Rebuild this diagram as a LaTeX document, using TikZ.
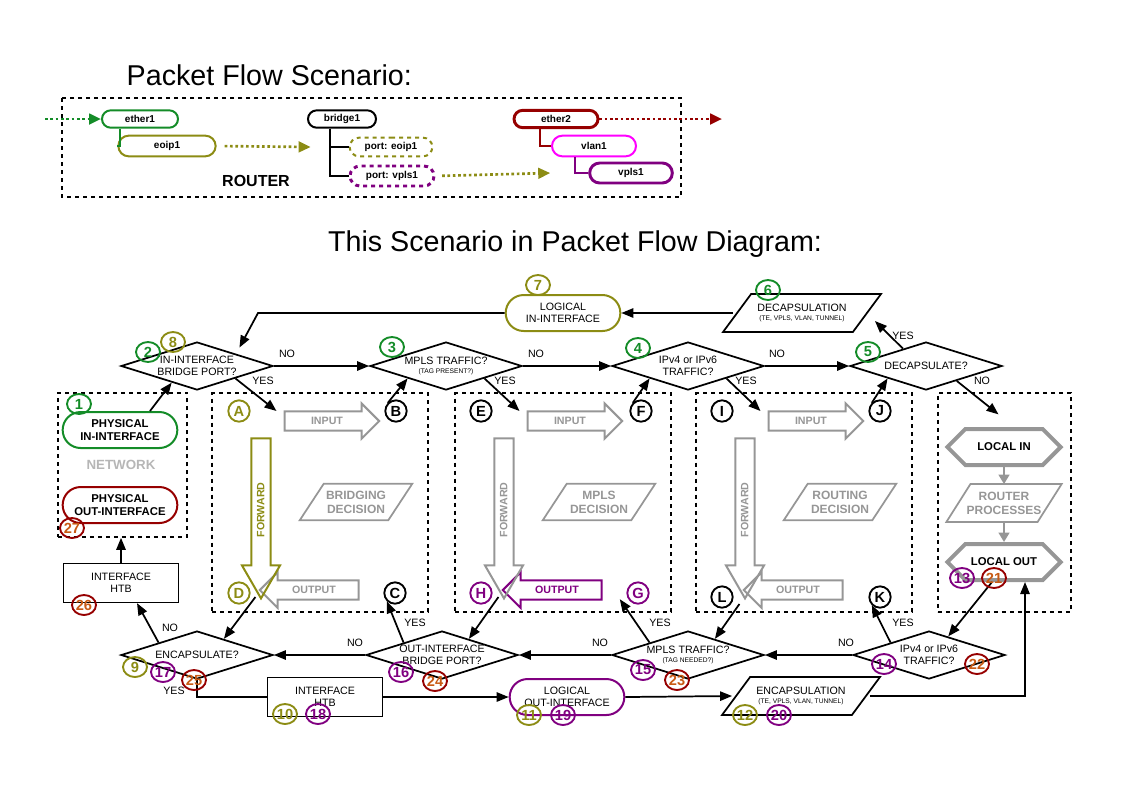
\documentclass[tikz,border=0pt]{standalone}
\usepackage{fontspec}
\setmainfont{Liberation Sans}
\usetikzlibrary{shapes.geometric,shapes.misc,shapes.symbols,shapes.arrows,arrows.meta,calc}
\definecolor{cg}{RGB}{20,140,40}
\definecolor{co}{RGB}{140,140,20}
\definecolor{cp}{RGB}{128,0,128}
\definecolor{cr}{RGB}{150,0,0}
\definecolor{cor}{RGB}{200,90,20}
\definecolor{cm}{RGB}{255,0,255}
\definecolor{cgr}{RGB}{150,150,150}
\begin{document}
\begin{tikzpicture}[x=0.75pt,y=-0.75pt,
 every node/.style={font=\fontsize{8}{9}\selectfont},
 arr/.style={-{Triangle[length=9pt,width=7pt]},line width=1.3pt},
 dia/.style={diamond,draw,line width=1.3pt,minimum width=114pt,minimum height=36pt,inner sep=-30pt,align=center},
 para/.style={rectangle,inner sep=0pt,align=center,minimum width=118pt,minimum height=28pt},
 gpara/.style={para,text=cgr,font=\fontsize{9}{10.5}\selectfont\bfseries,minimum width=84pt,minimum height=27pt},
 rr/.style={rounded rectangle,draw,line width=1.5pt,align=center,minimum width=86pt,minimum height=27pt,inner sep=0pt},
 box/.style={rectangle,draw,line width=1.2pt,align=center,minimum width=86pt,minimum height=29pt,inner sep=0pt},
 dbox/.style={rectangle,draw,dashed,line width=1.2pt,minimum height=164pt},
 hex/.style={signal,signal to=east and west,draw=cgr,line width=3pt,minimum width=85pt,minimum height=27pt,inner sep=0pt,font=\fontsize{8.5}{10}\selectfont\bfseries},
 num/.style={ellipse,draw=#1,text=#1,line width=1.4pt,minimum width=18pt,minimum height=15pt,inner sep=0pt,font=\fontsize{11}{11}\selectfont\bfseries},
 numr/.style={num=cr,text=cor},
 let/.style={circle,draw=#1,text=#1,line width=1.4pt,minimum size=16pt,inner sep=0pt,font=\fontsize{11}{11}\selectfont\bfseries},
 barr/.style={single arrow,draw=#1,text=#1,line width=1.5pt,text height=5pt,text depth=0pt,inner ysep=4pt,single arrow head extend=6pt,font=\fontsize{8}{9}\selectfont\bfseries},
 sm/.style={rounded rectangle,draw,line width=1.5pt,minimum height=13pt,inner sep=0pt,font=\fontsize{7.5}{8}\selectfont\bfseries},
 lab/.style={font=\fontsize{8}{9}\selectfont}
]
\useasboundingbox (0,0) rectangle (1123,794);
% ---------- top scenario ----------
\node[anchor=west,font=\fontsize{21.5}{24}\selectfont] (t1) at (122,75) {Packet Flow Scenario:};
\draw[dashed,line width=1.2pt] (62,98) rectangle (681,197);
\node[font=\fontsize{12}{13}\selectfont\bfseries] (routerlab) at (256,181) {ROUTER};
\node[sm,draw=cg,minimum width=57pt] (ether1) at (140,119) {ether1};
\node[sm,draw=co,minimum width=73pt,minimum height=15.5pt] (eoip1) at (167,146) {eoip1};
\node[sm,draw=black,minimum width=51pt] (bridge1) at (342,119) {bridge1};
\node[sm,draw=co,dashed,minimum width=62pt,minimum height=14pt] (peoip) at (391,147) {port: eoip1};
\node[sm,draw=cp,dashed,line width=2.2pt,minimum width=63pt,minimum height=15pt] (pvpls) at (392,176) {port: vpls1};
\node[sm,draw=cr,line width=2.2pt,minimum width=63pt] (ether2) at (556,119) {ether2};
\node[sm,draw=cm,minimum width=63pt,minimum height=15.5pt] (vlan1) at (594,146) {vlan1};
\node[sm,draw=cp,line width=2.2pt,minimum width=62pt,minimum height=15pt] (vpls1) at (631,173) {vpls1};
\coordinate (inS) at (45,119);
\coordinate (outE) at (722,119);
\draw[cg,dotted,line width=2pt,-{Triangle[length=9pt,width=8pt]}] (inS) -- (ether1.west);
\draw[cr,dotted,line width=2pt,-{Triangle[length=9pt,width=8pt]}] (ether2.east) -- (outE);
\draw[co,dotted,line width=2pt,-{Triangle[length=9pt,width=8pt]},shorten <=6pt] (eoip1.east) -- ($(peoip.west)+(-38,0)$);
\draw[co,dotted,line width=2pt,-{Triangle[length=9pt,width=8pt]},shorten <=5pt] (pvpls.east) -- ($(vpls1.west)+(-38,0)$);
\draw[cg,line width=1.5pt] ($(ether1.south)+(-20,0)$) |- (eoip1.west);
\draw[line width=1.5pt] ($(bridge1.south)+(-12,0)$) |- (peoip.west);
\draw[line width=1.5pt] ($(bridge1.south)+(-12,0)$) |- (pvpls.west);
\draw[cr,line width=1.5pt] ($(ether2.south)+(-16,0)$) |- (vlan1.west);
\draw[cp,line width=1.5pt] ($(vlan1.south)+(-19,0)$) |- (vpls1.west);
\node[font=\fontsize{21.5}{24}\selectfont] (t2) at (575,244) {This Scenario in Packet Flow Diagram:};
% ---------- boxes ----------
\node[dbox,minimum width=97pt,minimum height=108pt] (net) at (122.5,465) {};
\node[dbox,minimum width=162pt] (bbox) at (320,502.5) {};
\node[dbox,minimum width=162pt] (mbox) at (563,502.5) {};
\node[dbox,minimum width=162pt] (rbox) at (804,502.5) {};
\node[dbox,minimum width=100pt] (lbox) at (1004.5,502.5) {};
% ---------- top row ----------
\node[dia] (d2) at (197,366) {IN-INTERFACE\\BRIDGE PORT?};
\node[dia] (d3) at (446,366) {MPLS TRAFFIC?\\[-2pt]{\fontsize{5}{6}\selectfont (TAG PRESENT?)}};
\node[dia] (d4) at (688,366) {IPv4 or IPv6\\TRAFFIC?};
\node[dia] (d5) at (926,366) {DECAPSULATE?};
\node[para] (decaps) at (802,313) {DECAPSULATION\\[-2pt]{\fontsize{5}{6}\selectfont (TE, VPLS, VLAN, TUNNEL)}};
\node[rr,draw=co] (login) at (563,313) {LOGICAL\\IN-INTERFACE};
\coordinate (c1) at (258,313);
\draw[arr] ($(decaps.west)+(10,0)$) -- (login.east);
\draw[arr] (login.west) -- (c1) -- ($(d2.north)!0.5!(d2.east)+(4,-6)$);
\draw[arr] (d2.east) -- (d3.west);
\draw[arr] (d3.east) -- (d4.west);
\draw[arr] (d4.east) -- (d5.west);
\draw[arr] ($(d5.north)!0.3!(d5.west)$) -- ($(decaps.east)+(-6,8)$);
\draw[arr] ($(d5.south)!0.4!(d5.east)$) -- ($(lbox.north)+(-6,22)$);
\node[lab] (n1) at (287,354) {NO};
\node[lab] (n2) at (536,354) {NO};
\node[lab] (n3) at (777,354) {NO};
\node[lab] (n4) at (982,381) {NO};
\node[lab] (y1) at (263,381) {YES};
\node[lab] (y2) at (505,381) {YES};
\node[lab] (y3) at (746,381) {YES};
\node[lab] (y4) at (903,336) {YES};
% ---------- network box ----------
\node[rr,draw=cg,font=\fontsize{8.5}{10}\selectfont\bfseries] (physin) at (120,430) {PHYSICAL\\IN-INTERFACE};
\node[font=\fontsize{10}{11}\selectfont\bfseries,text=cgr!70] (netlab) at (121,465) {NETWORK};
\node[rr,draw=cr,font=\fontsize{8.5}{10}\selectfont\bfseries] (physout) at (120,505) {PHYSICAL\\OUT-INTERFACE};
\draw[arr] ($(physin.north)+(30,0)$) -- ($(d2.south)!0.33!(d2.west)$);
% ---------- decision boxes ----------
\foreach \b/\cx/\dn/\fc/\oc in {b/0/BRIDGING/co/cgr, m/243/MPLS/cgr/cp, r/484/ROUTING/cgr/cgr}{
  \node[gpara] (\b dec) at ({356+\cx},502) {\dn\\DECISION};
  \node[barr=cgr,minimum height=71pt,minimum width=24pt] (\b in) at ({327+\cx},421) {INPUT};
  \node[barr=\oc,shape border rotate=180,minimum height=74pt,minimum width=24pt] (\b out) at ({314+\cx},590) {OUTPUT};
  \node[barr=\fc,rotate=90,shape border rotate=180,minimum height=120pt,minimum width=27pt,single arrow head extend=7pt,single arrow tip angle=60] (\b fw) at ({261+\cx},510) {FORWARD};
}
\node[let=co] (A) at (239,411) {A};
\node[let=black] (B) at (396,411) {B};
\node[let=co] (D) at (239,593) {D};
\node[let=black] (C) at (395,593) {C};
\node[let=black] (E) at (481,411) {E};
\node[let=black] (F) at (641,411) {F};
\node[let=cp] (H) at (481,593) {H};
\node[let=cp] (G) at (638,593) {G};
\node[let=black] (I) at (722,411) {I};
\node[let=black] (J) at (880,411) {J};
\node[let=black] (L) at (722,597) {L};
\node[let=black] (K) at (880,597) {K};
\draw[arr] ($(d2.south)!0.5!(d2.east)$) -- ($(bin.west)+(-7,-10)$);
\draw[arr] ($(d3.south)!0.5!(d3.east)$) -- ($(min.west)+(-7,-10)$);
\draw[arr] ($(d4.south)!0.5!(d4.east)$) -- ($(rin.west)+(-7,-10)$);
\draw[arr] (B.north west) -- ($(d3.south)!0.5!(d3.west)$);
\draw[arr] (F.north west) -- ($(d4.south)!0.5!(d4.west)$);
\draw[arr] (J.north west) -- ($(d5.south)!0.5!(d5.west)$);
% ---------- local box ----------
\node[hex] (localin) at (1004,447) {LOCAL IN};
\node[gpara,minimum width=86pt,minimum height=28pt] (rproc) at (1004,503) {ROUTER\\PROCESSES};
\node[hex] (localout) at (1004,562) {LOCAL OUT};
\draw[cgr,line width=1.5pt,-{Triangle[length=7pt,width=8pt]}] (localin.south) -- (rproc.north);
\draw[cgr,line width=1.5pt,-{Triangle[length=7pt,width=8pt]}] (rproc.south) -- (localout.north);
% ---------- bottom row ----------
\node[dia] (d9) at (197,655) {ENCAPSULATE?};
\node[dia] (d16) at (442,655) {OUT-INTERFACE\\BRIDGE PORT?};
\node[dia] (d15) at (688,655) {MPLS TRAFFIC?\\[-2pt]{\fontsize{5}{6}\selectfont (TAG NEEDED?)}};
\node[dia] (d14) at (929,655) {IPv4 or IPv6\\TRAFFIC?};
\node[box] (htb1) at (121,583) {INTERFACE\\HTB};
\node[box] (htb2) at (325,697) {INTERFACE\\HTB};
\node[rr,draw=cp] (logout) at (567,697) {LOGICAL\\OUT-INTERFACE};
\node[para] (encaps) at (801,696) {ENCAPSULATION\\[-2pt]{\fontsize{5}{6}\selectfont (TE, VPLS, VLAN, TUNNEL)}};
% parallelogram outlines
\foreach \n/\c/\s in {decaps/black/14, encaps/black/14, bdec/cgr/12, mdec/cgr/12, rdec/cgr/12, rproc/cgr/12}{
  \draw[\c,line width=1.3pt] (\n.south west) -- ($(\n.north west)+(\s*2,0)$) -- (\n.north east) -- ($(\n.south east)+(-\s*2,0)$) -- cycle;
}
\draw[arr] (d14.west) -- (d15.east);
\draw[arr] (d15.west) -- (d16.east);
\draw[arr] (d16.west) -- (d9.east);
\draw[arr] ($(bout.west)+(-3,7)$) -- ($(d9.north)!0.35!(d9.east)$);
\draw[arr] ($(mout.west)+(-3,7)$) -- ($(d16.north)!0.35!(d16.east)$);
\draw[arr] ($(rout.west)+(-3,14)$) -- ($(d15.north)!0.35!(d15.east)$);
\draw[arr] ($(localout.south)+(-12,0)$) -- ($(d14.north)!0.25!(d14.east)$);
\draw[arr] ($(d14.north)!0.5!(d14.west)$) -- (K.south west);
\draw[arr] ($(d15.north)!0.5!(d15.west)$) -- ($(G.south west)+(-10,-2)$);
\draw[arr] ($(d16.north)!0.5!(d16.west)$) -- (C.south west);
\draw[arr] ($(d9.north)!0.5!(d9.west)$) -- ($(htb1.south)+(16,0)$);
\draw[arr] (htb1.north) -- (net.south -| htb1.north);
\draw[line width=1.3pt] (d9.south) |- (htb2.west);
\draw[arr] (htb2.east) -- (logout.west);
\draw[arr] (logout.east) -- ($(encaps.west)+(10,0)$);
\draw[arr] ($(encaps.east)+(-10,0)$) -| ($(localout.south)+(21,0)$);
\node[lab] (n5) at (170,628) {NO};
\node[lab] (n6) at (355,643) {NO};
\node[lab] (n7) at (600,643) {NO};
\node[lab] (n8) at (846,643) {NO};
\node[lab] (y5) at (174,691) {YES};
\node[lab] (y6) at (415,623) {YES};
\node[lab] (y7) at (660,623) {YES};
\node[lab] (y8) at (903,623) {YES};
% ---------- numbers ----------
\node[num=cg] (k1) at (79,404) {1};
\node[num=cg] (k2) at (148,352) {2};
\node[num=co] (k8) at (173,342) {8};
\node[num=cg] (k3) at (392,347) {3};
\node[num=cg] (k4) at (638,348) {4};
\node[num=cg] (k5) at (868,352) {5};
\node[num=cg] (k6) at (768,290) {6};
\node[num=co] (k7) at (538,285) {7};
\node[numr] (k27) at (72,528) {27};
\node[numr] (k26) at (84,605) {26};
\node[num=co] (k9) at (135,667) {9};
\node[num=cp] (k17) at (163,672) {17};
\node[numr] (k25) at (194,680) {25};
\node[num=cp] (k16) at (401,672) {16};
\node[numr] (k24) at (435,681) {24};
\node[num=cp] (k15) at (643,670) {15};
\node[numr] (k23) at (677,680) {23};
\node[num=cp] (k14) at (884,664) {14};
\node[numr] (k22) at (977,664) {22};
\node[num=cp] (k13) at (962,578) {13};
\node[numr] (k21) at (994,578) {21};
\node[num=co] (k10) at (285,714) {10};
\node[num=cp] (k18) at (318,714) {18};
\node[num=co] (k11) at (529,715) {11};
\node[num=cp] (k19) at (563,715) {19};
\node[num=co] (k12) at (745,715) {12};
\node[num=cp] (k20) at (779,715) {20};
\end{tikzpicture}
\end{document}
